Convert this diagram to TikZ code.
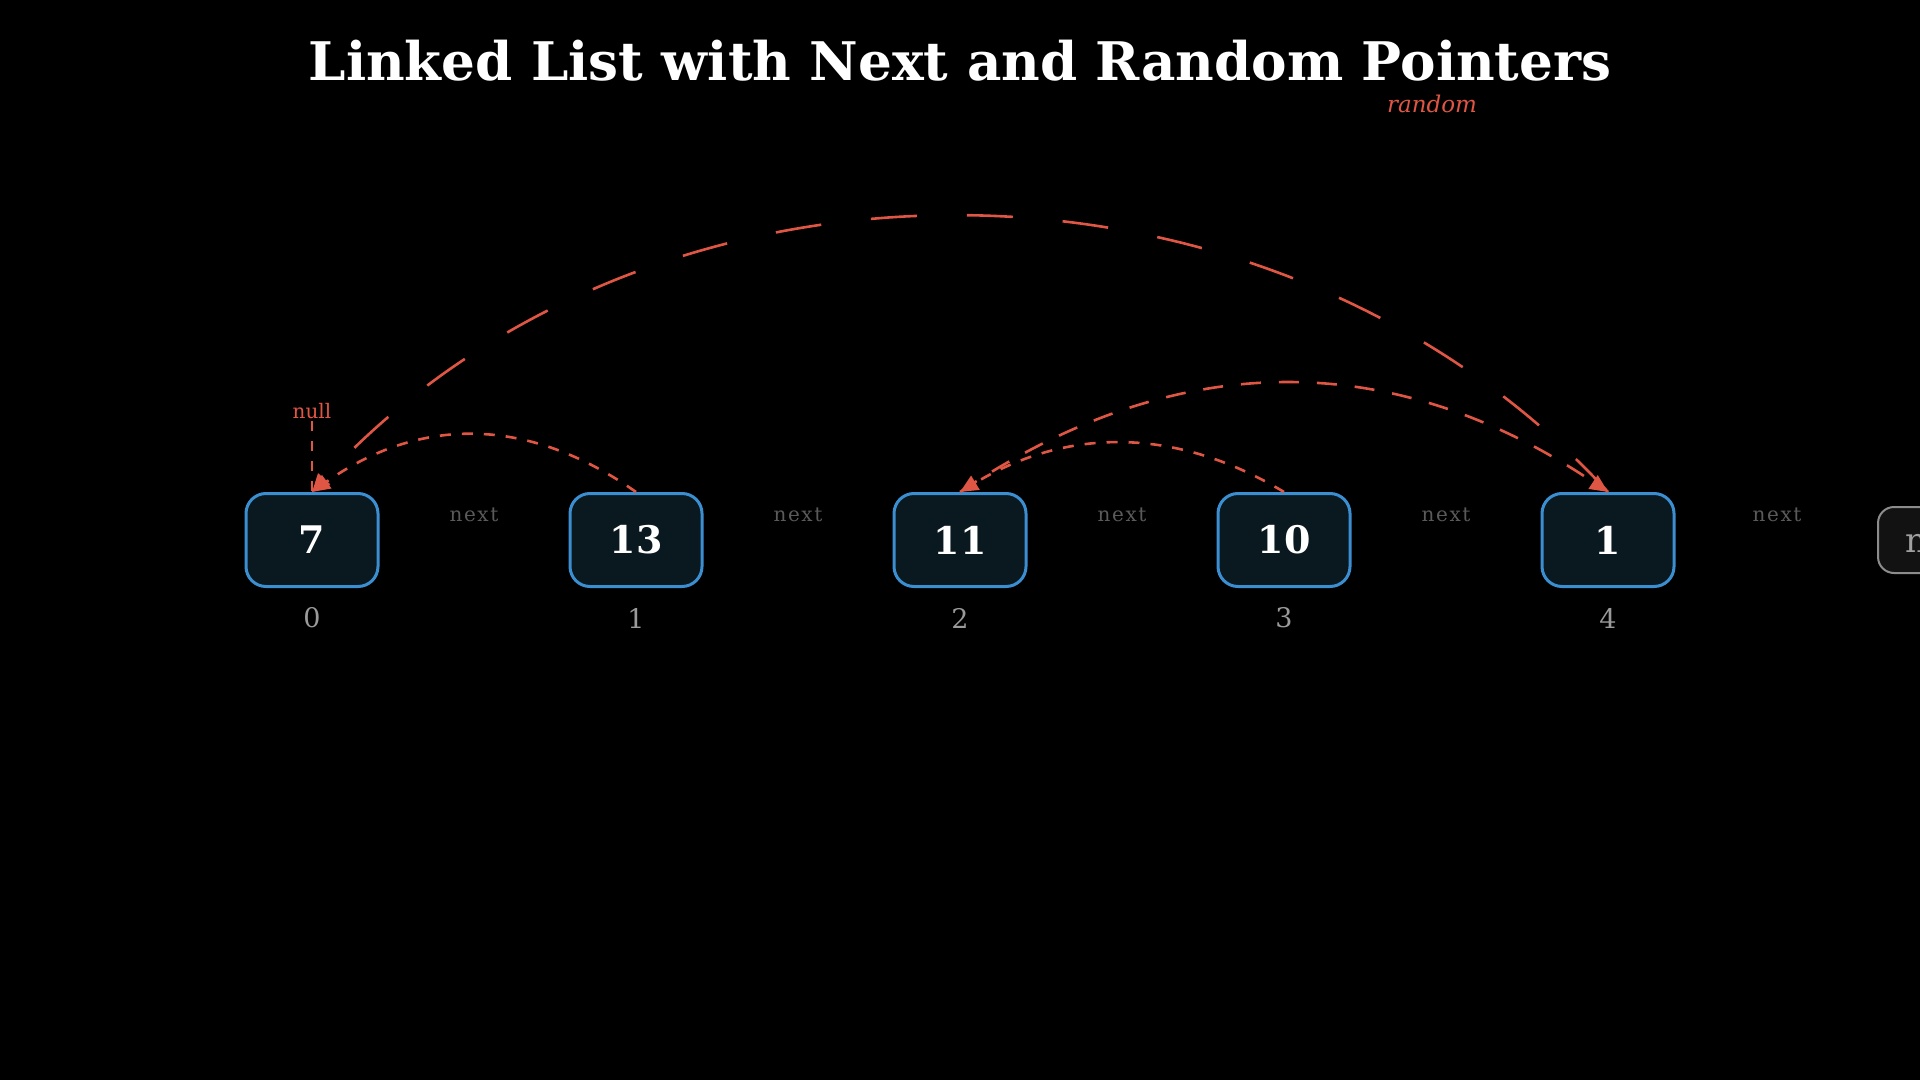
\documentclass[tikz,border=0pt]{standalone}
\usepackage{fontspec}
\setmainfont{DejaVu Serif}
\newfontfamily\nextfnt[LetterSpace=8]{DejaVu Serif}
\usetikzlibrary{arrows.meta}
\definecolor{redc}{HTML}{E05645}
\definecolor{bluec}{HTML}{3B8ED0}
\definecolor{fillc}{HTML}{0A1820}
\definecolor{idxc}{HTML}{9A9A9A}
\definecolor{nextc}{HTML}{5A5A5A}
\definecolor{nullbd}{HTML}{8C8C8C}
\definecolor{nullfill}{HTML}{121212}
\definecolor{nulltxt}{HTML}{A0A0A0}
\tikzset{
  listnode/.style={rectangle, rounded corners=10pt, draw=bluec, line width=1.5pt,
    fill=fillc, minimum width=66pt, minimum height=46.5pt, inner sep=0pt,
    text=white, font=\bfseries\fontsize{19}{19}\selectfont},
  idxlabel/.style={text=idxc, font=\fontsize{13.5}{14}\selectfont, inner sep=0pt},
  nextlabel/.style={text=nextc, font=\nextfnt\fontsize{10}{10}\selectfont, inner sep=0pt},
  nullnode/.style={rectangle, rounded corners=8pt, draw=nullbd, line width=1pt,
    fill=nullfill, minimum width=60pt, minimum height=33pt, inner sep=0pt,
    text=nulltxt, font=\fontsize{17}{17}\selectfont},
  randarc/.style={draw=redc, line width=1.3pt, -{Triangle[length=9pt,width=8pt]}},
  shortdash/.style={dash pattern=on 5.5pt off 5.5pt},
  middash/.style={dash pattern=on 10pt off 9pt},
  longdash/.style={dash pattern=on 23pt off 25pt},
}
\begin{document}
\begin{tikzpicture}[x=0.5pt,y=-0.5pt]
\fill[black] (0,0) rectangle (1920,1080);
\useasboundingbox (0,0) rectangle (1920,1080);

% title
\node[anchor=base, text=white, font=\bfseries\fontsize{26.6}{28}\selectfont, inner sep=0pt] (title) at (960,81) {Linked List with Next and Random Pointers};

% nodes
\node[listnode] (n7)  at (312,540)  {7};
\node[listnode] (n13) at (636,540)  {13};
\node[listnode] (n11) at (960,540)  {11};
\node[listnode] (n10) at (1284,540) {10};
\node[listnode] (n1)  at (1608,540) {1};
\node[nullnode] (nnull) at (1938,540) {null};

% index labels
\node[idxlabel] (i0) at (312,618)  {0};
\node[idxlabel] (i1) at (636,618)  {1};
\node[idxlabel] (i2) at (960,618)  {2};
\node[idxlabel] (i3) at (1284,618) {3};
\node[idxlabel] (i4) at (1608,618) {4};

% next labels
\node[nextlabel, anchor=base] (x1) at (474,521)  {next};
\node[nextlabel, anchor=base] (x2) at (798,521)  {next};
\node[nextlabel, anchor=base] (x3) at (1122,521) {next};
\node[nextlabel, anchor=base] (x4) at (1446,521) {next};
\node[nextlabel, anchor=base] (x5) at (1777,521) {next};

% random labels
\node[text=redc, font=\itshape\fontsize{11.5}{12}\selectfont, inner sep=0pt] (rlab) at (1432,104) {random};
\node[text=redc, font=\fontsize{10}{10}\selectfont, inner sep=1pt] (nulllab) at (312,411) {null};

% random pointers
\draw[draw=redc, line width=1pt, dash pattern=on 5pt off 5pt] (nulllab.south) -- (n7.north);
\draw[randarc, longdash] (n1.north) .. controls +(-338,-367) and +(338,-367) .. (n7.north);
\draw[randarc, middash] (n11.north) .. controls +(216,-145) and +(-216,-145) .. (n1.north);
\draw[randarc, shortdash] (n13.north) .. controls +(-108,-76) and +(108,-76) .. (n7.north);
\draw[randarc, shortdash] (n10.north) .. controls +(-108,-65) and +(108,-65) .. (n11.north);
\end{tikzpicture}
\end{document}
